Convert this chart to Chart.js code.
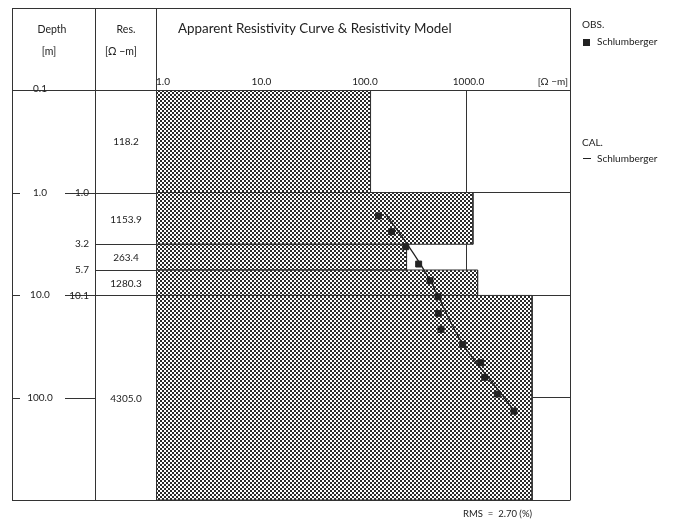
<!DOCTYPE html>
<html>
<head>
<meta charset="utf-8">
<title>Apparent Resistivity Curve &amp; Resistivity Model</title>
<script src="https://cdn.jsdelivr.net/npm/chart.js@4"></script>
<style>
  html, body { margin:0; padding:0; background:#fff; }
  #wrap { width:676px; height:526px; }
</style>
</head>
<body>
<div id="wrap"><canvas id="chart" width="676" height="526"></canvas></div>
<script>
'use strict';

// ── Model layers ──
const layerTop    = [0.1, 1.0, 3.2, 5.7, 10.1];
const layerBottom = [1.0, 3.2, 5.7, 10.1, 1000];
const layerRes    = [118.2, 1153.9, 263.4, 1280.3, 4305.0];
const boundaryDepths = [1.0, 3.2, 5.7, 10.1];
const boundaryLabels = ['1.0', '3.2', '5.7', '10.1'];

// ── Axis ticks ──
const depthTicks      = [0.1, 1, 10, 100, 1000];
const depthTickLabels = ['0.1', '1.0', '10.0', '100.0'];
const resTicks        = [1, 10, 100, 1000, 10000];
const resTickLabels   = ['1.0', '10.0', '100.0', '1000.0'];

// ── Observed (Schlumberger) ──
const obsAB  = [1.69, 2.41, 3.38, 4.99, 7.25, 10.4, 15.1, 21.6, 30.3, 45.8, 63.5, 92.5, 136];
const obsRho = [141, 189, 259, 345, 444, 530, 534, 567, 919, 1371, 1500, 1986, 2876];

// ── Calculated (Schlumberger) ──
const calAB  = [1.55, 3.13, 4.91, 7.69, 10.4, 30.7, 84.5, 137.7];
const calRho = [160, 264, 355, 461, 534, 931, 2028, 2943];

const FONT = "Lato, 'Noto Sans', sans-serif";
const INK  = '#222';
const LINE = '#333';

function hatchPattern() {
  const c = document.createElement('canvas');
  c.width = 4; c.height = 4;
  const g = c.getContext('2d');
  g.fillStyle = '#fff';
  g.fillRect(0, 0, 4, 4);
  g.fillStyle = '#2a2a2a';
  g.fillRect(0, 0, 2, 2);
  g.fillRect(2, 2, 2, 2);
  return g.createPattern(c, 'repeat');
}

const hatch = hatchPattern();

const layerSets = layerRes.map((r, i) => ({
  type: 'line',
  data: [
    { x: 1, y: layerTop[i] },
    { x: r, y: layerTop[i] },
    { x: r, y: layerBottom[i] },
    { x: 1, y: layerBottom[i] },
    { x: 1, y: layerTop[i] },
  ],
  borderColor: LINE,
  borderWidth: 1,
  backgroundColor: hatch,
  fill: 'shape',
  pointRadius: 0,
  tension: 0,
  order: 2,
}));

function text(ctx, s, x, y, size, align) {
  ctx.font = `${size}px ${FONT}`;
  ctx.textAlign = align || 'center';
  ctx.textBaseline = 'middle';
  ctx.fillStyle = INK;
  ctx.fillText(s, x, y);
}

function hline(ctx, x1, x2, y) {
  ctx.beginPath();
  ctx.moveTo(x1, Math.round(y) + 0.5);
  ctx.lineTo(x2, Math.round(y) + 0.5);
  ctx.stroke();
}

function vline(ctx, x, y1, y2) {
  ctx.beginPath();
  ctx.moveTo(Math.round(x) + 0.5, y1);
  ctx.lineTo(Math.round(x) + 0.5, y2);
  ctx.stroke();
}

const framePlugin = {
  id: 'frame',
  beforeDraw(chart) {
    const ctx = chart.ctx;
    ctx.save();
    ctx.fillStyle = '#fff';
    ctx.fillRect(0, 0, chart.width, chart.height);
    ctx.restore();
  },
  afterDraw(chart) {
    const ctx = chart.ctx;
    const xs = chart.scales.x, ys = chart.scales.y;
    const a = chart.chartArea;
    const L = 12, C1 = 95, top = 8;

    ctx.save();
    ctx.strokeStyle = LINE;
    ctx.lineWidth = 1;

    // outer frame & columns
    hline(ctx, L, a.right, top);
    hline(ctx, L, a.right, a.top);
    hline(ctx, L, a.right, a.bottom);
    [L, C1, a.left, a.right].forEach(x => vline(ctx, x, top, a.bottom + 0.5));

    // depth column ticks
    depthTicks.slice(1, 4).forEach(d => {
      const y = ys.getPixelForValue(d);
      hline(ctx, L, L + 8, y);
      hline(ctx, 65, C1, y);
    });
    // layer boundaries in Res column
    boundaryDepths.forEach(d => hline(ctx, C1, a.left, ys.getPixelForValue(d)));

    // header
    text(ctx, 'Depth', 52, 30, 10.5);
    text(ctx, '[m]', 49, 52, 10.5);
    text(ctx, 'Res.', 126, 30, 10.5);
    text(ctx, '[Ω −m]', 121, 52, 10.5);
    text(ctx, 'Apparent Resistivity Curve & Resistivity Model', 178, 29, 13.4, 'left');

    // x tick labels
    resTickLabels.forEach((s, i) => {
      const x = xs.getPixelForValue(resTicks[i]);
      if (i === 0) text(ctx, s, x, 82, 10, 'left');
      else text(ctx, s, x + 2, 82, 10);
    });
    text(ctx, '[Ω −m]', a.right - 2, 82, 10, 'right');

    // depth tick labels
    depthTickLabels.forEach((s, i) => {
      const y = ys.getPixelForValue(depthTicks[i]);
      text(ctx, s, 40, i === 0 ? y - 1 : y, 10);
    });
    boundaryLabels.forEach((s, i) => {
      text(ctx, s, 89, ys.getPixelForValue(boundaryDepths[i]), 10, 'right');
    });

    // resistivity values
    layerRes.forEach((r, i) => {
      const y = (ys.getPixelForValue(layerTop[i]) + ys.getPixelForValue(layerBottom[i])) / 2;
      text(ctx, r.toFixed(1), 126, y + 1, 10);
    });

    // legend
    text(ctx, 'OBS.', 582, 25, 10, 'left');
    ctx.fillStyle = INK;
    ctx.fillRect(583, 39, 7, 7);
    text(ctx, 'Schlumberger', 597, 42, 10, 'left');
    text(ctx, 'CAL.', 582, 143, 10, 'left');
    ctx.strokeStyle = INK;
    hline(ctx, 583, 591, 158);
    text(ctx, 'Schlumberger', 597, 159, 10, 'left');

    // RMS
    text(ctx, 'RMS  =  2.70 (%)', 463, 514, 9.5, 'left');
    ctx.restore();
  }
};

function decadeTicks(values) {
  return scale => { scale.ticks = values.map(v => ({ value: v })); };
}

new Chart(document.getElementById('chart').getContext('2d'), {
  type: 'scatter',
  data: {
    datasets: [
      {
        label: 'OBS. Schlumberger',
        data: obsAB.map((d, i) => ({ x: obsRho[i], y: d })),
        pointStyle: 'rect',
        pointRadius: 4.2,
        pointBackgroundColor: INK,
        pointBorderColor: INK,
        pointBorderWidth: 1,
        showLine: false,
        order: 0,
      },
      {
        type: 'line',
        label: 'CAL. Schlumberger',
        data: calAB.map((d, i) => ({ x: calRho[i], y: d })),
        borderColor: INK,
        borderWidth: 1.3,
        pointRadius: 0,
        tension: 0.35,
        fill: false,
        order: 1,
      },
      ...layerSets,
    ]
  },
  options: {
    responsive: false,
    animation: false,
    devicePixelRatio: 1,
    layout: { padding: { left: 156, top: 90, right: 106, bottom: 26 } },
    plugins: {
      legend: { display: false },
      tooltip: { enabled: false },
      filler: { drawTime: 'beforeDatasetsDraw' },
    },
    scales: {
      x: {
        type: 'logarithmic',
        position: 'top',
        min: 1, max: 10000,
        z: 1,
        afterBuildTicks: decadeTicks(resTicks),
        ticks: { display: false },
        grid: { color: '#333', lineWidth: 1, drawTicks: false },
        border: { display: false },
      },
      y: {
        type: 'logarithmic',
        reverse: true,
        min: 0.1, max: 1000,
        z: 1,
        afterBuildTicks: decadeTicks(depthTicks),
        ticks: { display: false },
        grid: { color: '#333', lineWidth: 1, drawTicks: false },
        border: { display: false },
      }
    }
  },
  plugins: [framePlugin]
});
</script>
</body>
</html>
